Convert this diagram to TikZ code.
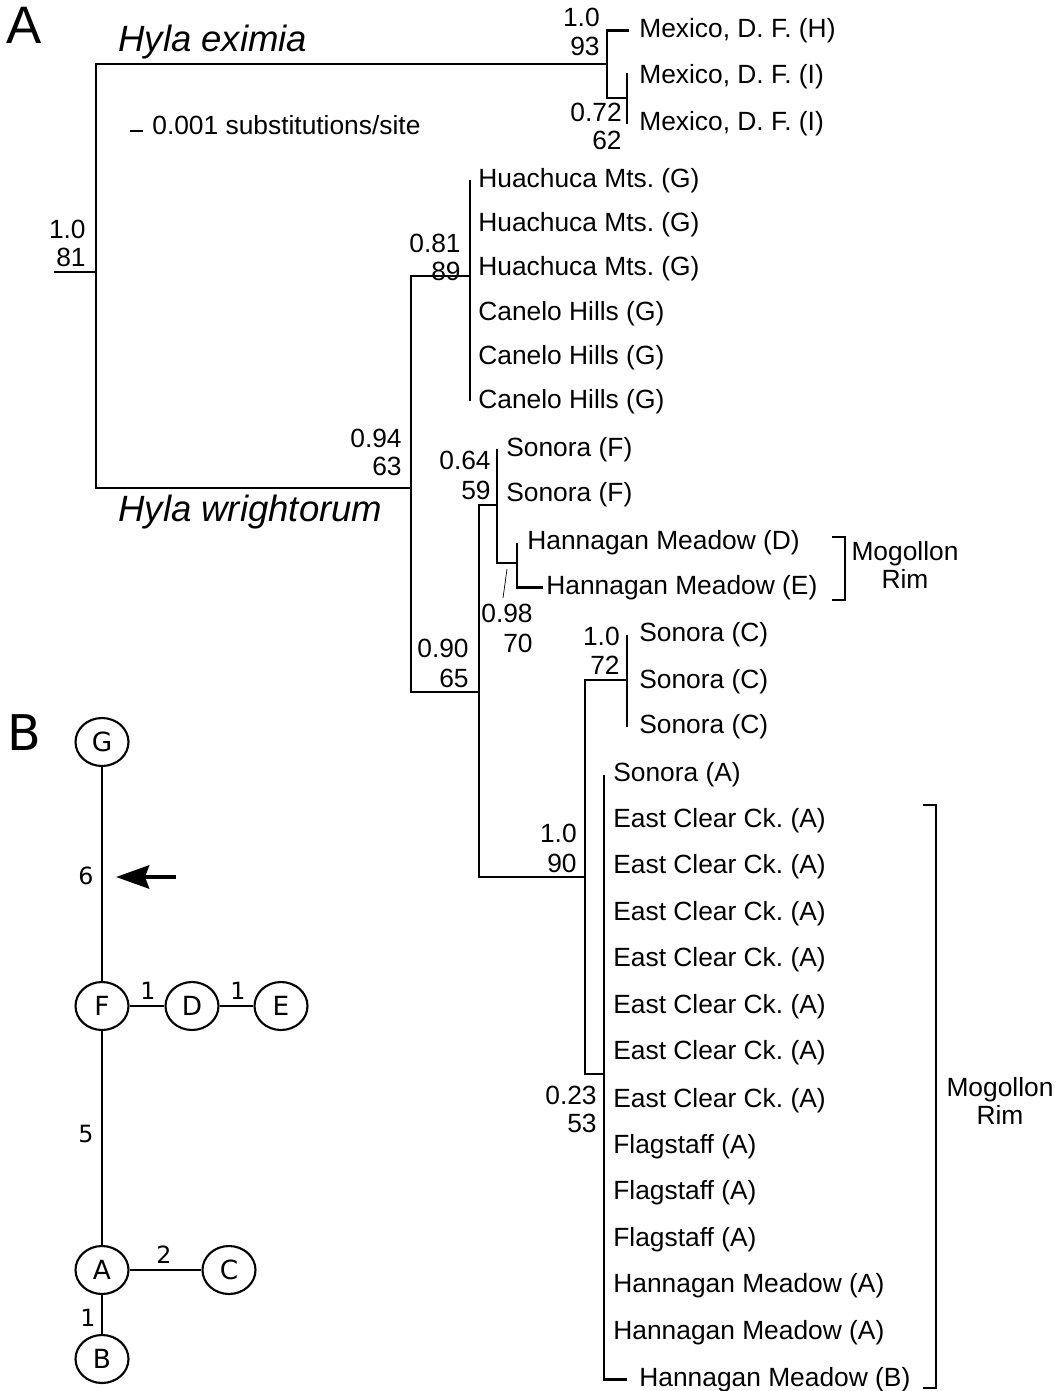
\documentclass[tikz,border=0pt]{standalone}
\usepackage{fontspec}
\setmainfont{Liberation Sans}
\newfontfamily\dejavu{DejaVu Sans}
\usetikzlibrary{arrows.meta, positioning, calc, shapes.geometric}
\definecolor{inkblack}{HTML}{000000}
\frenchspacing

\newcommand{\leaffont}{\fontsize{15pt}{17pt}\selectfont}
\newcommand{\taxonfont}{\fontsize{20.8pt}{24pt}\selectfont\itshape}
\newcommand{\panelfont}{\fontsize{30pt}{34pt}\selectfont}
\newcommand{\hapfont}{\dejavu\fontsize{15pt}{17pt}\selectfont}
\newcommand{\stepfont}{\dejavu\fontsize{13.5pt}{15pt}\selectfont}

\tikzset{
  branch/.style={inkblack, line width=1.6pt},
  leader/.style={inkblack, line width=0.4pt},
  leaf/.style={anchor=west, inner sep=0pt, yshift=-0.05cm, font=\leaffont},
  support/.style={anchor=east, inner sep=0pt, font=\leaffont},
  hap/.style={draw, ellipse, line width=1.2pt, minimum width=1.06cm,
    minimum height=0.96cm, inner sep=0pt, font=\hapfont},
  netedge/.style={inkblack, line width=1.3pt}
}

\begin{document}
\begin{tikzpicture}[x=0.02cm, y=-0.02cm]

\useasboundingbox (0,0) rectangle (1062,1391);

% Panel letters
\node[font=\panelfont, inner sep=0pt] (panelA) at (24,25) {A};
\node[font=\dejavu\fontsize{28pt}{32pt}\selectfont, inner sep=0pt] (panelB) at (24,733) {B};

% Species names and scale bar
\node[anchor=west, inner sep=0pt, font=\taxonfont] (eximia) at (118,42) {Hyla eximia};
\node[anchor=west, inner sep=0pt, font=\taxonfont] (wrightorum) at (118,512) {Hyla wrightorum};
\coordinate (barL) at (130,131);
\coordinate (barR) at (143,131);
\draw[inkblack, line width=1pt] (barL) -- (barR);
\node[support, anchor=west] (scale) at (152,125) {0.001 substitutions/site};

% Leaves
\node[leaf] (mexH)  at (639,28)  {Mexico, D. F. (H)};
\node[leaf] (mexI1) at (639,74)  {Mexico, D. F. (I)};
\node[leaf] (mexI2) at (639,121) {Mexico, D. F. (I)};
\node[leaf] (hua1) at (478,178) {Huachuca Mts. (G)};
\node[leaf] (hua2) at (478,222) {Huachuca Mts. (G)};
\node[leaf] (hua3) at (478,266) {Huachuca Mts. (G)};
\node[leaf] (can1) at (478,311) {Canelo Hills (G)};
\node[leaf] (can2) at (478,355) {Canelo Hills (G)};
\node[leaf] (can3) at (478,399) {Canelo Hills (G)};
\node[leaf] (sonF1) at (506,447) {Sonora (F)};
\node[leaf] (sonF2) at (506,492) {Sonora (F)};
\node[leaf] (hanD)  at (527,540) {Hannagan Meadow (D)};
\node[leaf] (hanE)  at (546,585) {Hannagan Meadow (E)};
\node[leaf] (sonC1) at (639,632) {Sonora (C)};
\node[leaf] (sonC2) at (639,679) {Sonora (C)};
\node[leaf] (sonC3) at (639,724) {Sonora (C)};
\node[leaf] (sonA)  at (613,772)  {Sonora (A)};
\node[leaf] (ecc1)  at (613,818)  {East Clear Ck. (A)};
\node[leaf] (ecc2)  at (613,864)  {East Clear Ck. (A)};
\node[leaf] (ecc3)  at (613,911)  {East Clear Ck. (A)};
\node[leaf] (ecc4)  at (613,957)  {East Clear Ck. (A)};
\node[leaf] (ecc5)  at (613,1004) {East Clear Ck. (A)};
\node[leaf] (ecc6)  at (613,1050) {East Clear Ck. (A)};
\node[leaf] (ecc7)  at (613,1098) {East Clear Ck. (A)};
\node[leaf] (flag1) at (613,1144) {Flagstaff (A)};
\node[leaf] (flag2) at (613,1190) {Flagstaff (A)};
\node[leaf] (flag3) at (613,1237) {Flagstaff (A)};
\node[leaf] (hanA1) at (613,1283) {Hannagan Meadow (A)};
\node[leaf] (hanA2) at (613,1330) {Hannagan Meadow (A)};
\node[leaf] (hanB)  at (639,1377) {Hannagan Meadow (B)};

% Internal nodes of the tree
\coordinate (stub) at (54,272);
\coordinate (root) at (96,272);
\coordinate (ex) at (607,64);
\coordinate (mi) at (627,98);
\coordinate (wr) at (411,488);
\coordinate (hu) at (470,276);
\coordinate (lo) at (479,692);
\coordinate (sf) at (497,505);
\coordinate (hm) at (517,563);
\coordinate (ca) at (585,877);
\coordinate (sc) at (627,680);
\coordinate (sa) at (604,1074);

% Branches
\draw[branch] (stub) -- (root);
\draw[branch] (ex) -| (root) |- (wr);
\draw[branch] ($(mexH.west)+(-10,0)$) -| (ex) |- (mi);
\draw[branch] ($(mi |- mexI1)+(0,-3)$) -- ($(mi |- mexI2)+(0,1)$);
\draw[branch] (hu) -| (wr) |- (lo);
\draw[branch] (hu |- hua1) -- (hu |- can3);
\draw[branch] (sf) -| (lo) |- (ca);
\draw[branch] (sf |- sonF1) |- (hm);
\draw[branch] ($(hanE.west)+(-3,0)$) -| (hm) -- (hm |- hanD);
\draw[branch] (sc) -| (ca) |- (sa);
\draw[branch] (sc |- sonC1) -- (sc |- sonC3);
\draw[branch] (sa |- sonA) -- (sa |- hanB) -- ($(hanB.west)+(-12,0)$);
\draw[leader] ($(hm)+(-10,6)$) -- ($(hm)+(-14,35)$);

% Support values (posterior / bootstrap)
\node[support] (pRoot) at (86,229) {1.0};
\node[support] (bRoot) at (86,257) {81};
\node[support] (pEx) at (600,17) {1.0};
\node[support] (bEx) at (600,46) {93};
\node[support] (pMi) at (622,112) {0.72};
\node[support] (bMi) at (622,140) {62};
\node[support] (pHu) at (461,243) {0.81};
\node[support] (bHu) at (461,271) {89};
\node[support] (pWr) at (402,438) {0.94};
\node[support] (bWr) at (402,466) {63};
\node[support] (pSf) at (491,460) {0.64};
\node[support] (bSf) at (491,490) {59};
\node[support] (pHm) at (533,613) {0.98};
\node[support] (bHm) at (533,643) {70};
\node[support] (pLo) at (469,648) {0.90};
\node[support] (bLo) at (469,678) {65};
\node[support] (pSc) at (620,636) {1.0};
\node[support] (bSc) at (620,665) {72};
\node[support] (pCa) at (577,833) {1.0};
\node[support] (bCa) at (577,863) {90};
\node[support] (pSa) at (597,1095) {0.23};
\node[support] (bSa) at (597,1123) {53};

% Mogollon Rim brackets
\draw[branch] (832,537) -| (845,600) -- (832,600);
\node[font=\leaffont, align=center, inner sep=0pt] (rimTop) at (905,565)
  {Mogollon\\[-1pt]Rim};
\draw[branch] (923,805) -| (936,1388) -- (923,1388);
\node[font=\leaffont, align=center, inner sep=0pt] (rimLow) at (1000,1101)
  {Mogollon\\[-1pt]Rim};

% Panel B: haplotype network
\node[hap] (G) at (102,742) {G};
\node[hap] (F) at (102,1006) {F};
\node[hap] (D) at (192,1006) {D};
\node[hap] (E) at (281,1006) {E};
\node[hap] (A) at (102,1270) {A};
\node[hap] (C) at (229,1270) {C};
\node[hap] (B) at (102,1359) {B};

\draw[netedge] (G) -- (F);
\draw[netedge] (F) -- (D);
\draw[netedge] (D) -- (E);
\draw[netedge] (F) -- (A);
\draw[netedge] (A) -- (C);
\draw[netedge] (A) -- (B);

\node[font=\stepfont, inner sep=0pt] (sGF) at (86,876) {6};
\node[font=\stepfont, inner sep=0pt] (sFD) at (148,991) {1};
\node[font=\stepfont, inner sep=0pt] (sDE) at (238,991) {1};
\node[font=\stepfont, inner sep=0pt] (sFA) at (86,1134) {5};
\node[font=\stepfont, inner sep=0pt] (sAC) at (164,1255) {2};
\node[font=\stepfont, inner sep=0pt] (sAB) at (88,1318) {1};

% Arrow pointing at the G--F step
\coordinate (arrTail) at (176,877);
\coordinate (arrTip) at (116,877);
\draw[line width=2.8pt, -{Stealth[length=6.6mm, width=4.6mm, inset=0.8mm]}]
  (arrTail) -- (arrTip);

\end{tikzpicture}
\end{document}
